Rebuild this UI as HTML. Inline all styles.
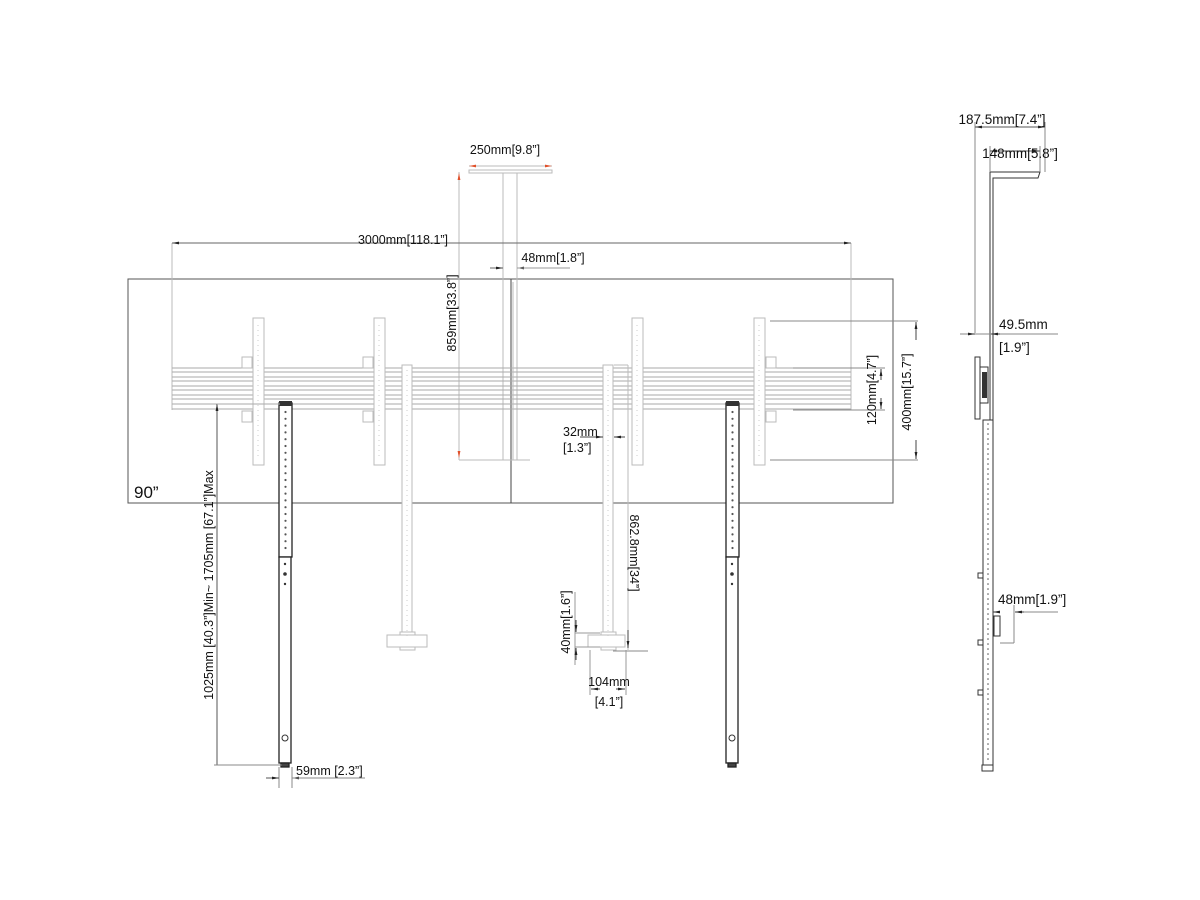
<!DOCTYPE html>
<html><head><meta charset="utf-8"><style>
html,body{margin:0;padding:0;background:#fff;}
svg{display:block;}
text{font-family:"Liberation Sans",Arial,sans-serif;font-size:12.5px;fill:#111;}
.s{font-size:13.5px;}
</style></head><body>
<svg width="1200" height="900" viewBox="0 0 1200 900" xmlns="http://www.w3.org/2000/svg">
<defs>
<marker id="a" viewBox="0 0 10 10" refX="10" refY="5" markerWidth="7" markerHeight="7" orient="auto-start-reverse"><path d="M0,3 L10,5 L0,7z" fill="#222"/></marker>
<marker id="r" viewBox="0 0 10 10" refX="10" refY="5" markerWidth="7" markerHeight="7" orient="auto-start-reverse"><path d="M0,3 L10,5 L0,7z" fill="#e0502a"/></marker>
</defs>
<rect width="1200" height="900" fill="#fff"/>

<rect x="128" y="279" width="765" height="224" fill="none" stroke="#555" stroke-width="1"/>
<line x1="511" y1="279" x2="511" y2="503" stroke="#444" stroke-width="1"/>
<text x="134" y="498" style="font-size:17px">90”</text>

<g stroke="#bbb" stroke-width="1" fill="none">
<rect x="469" y="170" width="83" height="3"/>
<line x1="503" y1="173" x2="503" y2="460"/>
<line x1="517" y1="173" x2="517" y2="460"/>
<line x1="459" y1="172" x2="459" y2="460"/>
<line x1="459" y1="460" x2="530" y2="460"/>
<line x1="172" y1="243" x2="172" y2="410"/>
<line x1="851" y1="243" x2="851" y2="410"/>
</g>
<line x1="469" y1="166" x2="552" y2="166" stroke="#bbb" marker-start="url(#r)" marker-end="url(#r)"/>
<line x1="459" y1="190" x2="459" y2="173" stroke="#bbb" marker-end="url(#r)"/>
<line x1="459" y1="440" x2="459" y2="458" stroke="#bbb" marker-end="url(#r)"/>
<text x="505" y="154" text-anchor="middle">250mm[9.8”]</text>
<text transform="translate(456,313) rotate(-90)" text-anchor="middle">859mm[33.8”]</text>

<line x1="172" y1="243" x2="851" y2="243" stroke="#666" marker-start="url(#a)" marker-end="url(#a)"/>
<text x="403" y="244" text-anchor="middle">3000mm[118.1”]</text>
<line x1="490" y1="268" x2="503" y2="268" stroke="#666" marker-end="url(#a)"/>
<line x1="535" y1="268" x2="517" y2="268" stroke="#666" marker-end="url(#a)"/>
<line x1="517" y1="268" x2="570" y2="268" stroke="#999"/>
<text x="553" y="262" text-anchor="middle">48mm[1.8”]</text>

<g stroke="#aaa" stroke-width="1">
<line x1="172" y1="368" x2="851" y2="368"/><line x1="172" y1="372" x2="851" y2="372"/>
<line x1="172" y1="377" x2="851" y2="377"/><line x1="172" y1="381" x2="851" y2="381"/>
<line x1="172" y1="386" x2="851" y2="386"/><line x1="172" y1="390" x2="851" y2="390"/>
<line x1="172" y1="395" x2="851" y2="395"/><line x1="172" y1="399" x2="851" y2="399"/>
<line x1="172" y1="404" x2="851" y2="404"/><line x1="172" y1="409" x2="851" y2="409"/>
</g>
<g stroke="#bbb" fill="#fff" stroke-width="1">
<rect x="253" y="318" width="11" height="147"/>
<rect x="374" y="318" width="11" height="147"/>
<rect x="632" y="318" width="11" height="147"/>
<rect x="754" y="318" width="11" height="147"/>
<rect x="242" y="357" width="10" height="11"/><rect x="242" y="411" width="10" height="11"/>
<rect x="363" y="357" width="10" height="11"/><rect x="363" y="411" width="10" height="11"/>
<rect x="766" y="357" width="10" height="11"/><rect x="766" y="411" width="10" height="11"/>
<rect x="402" y="365" width="10" height="280"/>
<rect x="603" y="365" width="10" height="280"/>
<line x1="614" y1="365" x2="628" y2="365"/><line x1="628" y1="365" x2="628" y2="650"/>
<rect x="400" y="632" width="15" height="18"/>
<rect x="387" y="635" width="40" height="12"/>
<rect x="601" y="632" width="15" height="18"/>
<rect x="588" y="635" width="37" height="12"/>
<line x1="513" y1="282" x2="513" y2="460"/>
</g>
<g stroke="#ccc" stroke-dasharray="1 4">
<line x1="258" y1="325" x2="258" y2="460"/><line x1="379" y1="325" x2="379" y2="460"/>
<line x1="637" y1="325" x2="637" y2="460"/><line x1="759" y1="325" x2="759" y2="460"/>
<line x1="407" y1="370" x2="407" y2="640"/><line x1="608" y1="370" x2="608" y2="640"/>
</g>

<g stroke="#222" stroke-width="1.3" fill="#fff">
<rect x="279" y="403" width="13" height="154"/>
<rect x="279" y="557" width="12" height="206"/>
<rect x="281" y="763" width="8" height="4" fill="#444"/>
<rect x="726" y="403" width="13" height="154"/>
<rect x="726" y="557" width="12" height="206"/>
<rect x="728" y="763" width="8" height="4" fill="#444"/>
</g>
<g fill="#333"><rect x="279" y="401" width="13" height="5"/><rect x="726" y="401" width="13" height="5"/></g>
<g stroke="#555" stroke-width="2.2" stroke-linecap="round" stroke-dasharray="0 6.8">
<line x1="285.5" y1="412" x2="285.5" y2="553"/><line x1="732.5" y1="412" x2="732.5" y2="553"/>
</g>
<g fill="#333"><circle cx="285" cy="564" r="1.2"/><circle cx="285" cy="574" r="1.8"/><circle cx="285" cy="584" r="1.2"/>
<circle cx="732" cy="564" r="1.2"/><circle cx="732" cy="574" r="1.8"/><circle cx="732" cy="584" r="1.2"/></g>
<circle cx="285" cy="738" r="3" fill="none" stroke="#333"/><circle cx="732" cy="738" r="3" fill="none" stroke="#333"/>

<line x1="217" y1="765" x2="217" y2="404" stroke="#555" marker-end="url(#a)"/>
<line x1="214" y1="765" x2="282" y2="765" stroke="#888"/>
<line x1="217" y1="404" x2="280" y2="404" stroke="#aaa"/>
<text transform="translate(213,585) rotate(-90)" text-anchor="middle">1025mm [40.3”]Min~ 1705mm [67.1”]Max</text>
<line x1="279" y1="767" x2="279" y2="788" stroke="#888"/><line x1="292" y1="767" x2="292" y2="788" stroke="#888"/>
<line x1="266" y1="778" x2="279" y2="778" stroke="#555" marker-end="url(#a)"/>
<line x1="305" y1="778" x2="292" y2="778" stroke="#555" marker-end="url(#a)"/>
<line x1="292" y1="778" x2="365" y2="778" stroke="#888"/>
<text x="296" y="775">59mm [2.3”]</text>

<g stroke="#888"><line x1="770" y1="321" x2="918" y2="321"/><line x1="770" y1="460" x2="918" y2="460"/>
<line x1="793" y1="368" x2="885" y2="368"/><line x1="793" y1="410" x2="885" y2="410"/></g>
<line x1="916" y1="340" x2="916" y2="322" stroke="#444" marker-end="url(#a)"/>
<line x1="916" y1="440" x2="916" y2="459" stroke="#444" marker-end="url(#a)"/>
<line x1="881" y1="380" x2="881" y2="369" stroke="#444" marker-end="url(#a)"/>
<line x1="881" y1="398" x2="881" y2="409" stroke="#444" marker-end="url(#a)"/>
<text transform="translate(911,392) rotate(-90)" text-anchor="middle">400mm[15.7”]</text>
<text transform="translate(876,390) rotate(-90)" text-anchor="middle">120mm[4.7”]</text>

<line x1="580" y1="437" x2="603" y2="437" stroke="#444" marker-end="url(#a)"/>
<line x1="625" y1="437" x2="614" y2="437" stroke="#444" marker-end="url(#a)"/>
<text x="563" y="436">32mm</text><text x="563" y="452">[1.3”]</text>
<text transform="translate(630,553) rotate(90)" text-anchor="middle">862.8mm[34”]</text>
<line x1="628" y1="630" x2="628" y2="648" stroke="#444" marker-end="url(#a)"/>
<line x1="613" y1="651" x2="648" y2="651" stroke="#888"/>
<g stroke="#999"><line x1="575" y1="633" x2="600" y2="633"/><line x1="575" y1="647" x2="600" y2="647"/>
<line x1="575" y1="592" x2="575" y2="665"/></g>
<line x1="576" y1="620" x2="576" y2="632" stroke="#444" marker-end="url(#a)"/>
<line x1="576" y1="660" x2="576" y2="648" stroke="#444" marker-end="url(#a)"/>
<text transform="translate(570,622) rotate(-90)" text-anchor="middle">40mm[1.6”]</text>
<g stroke="#999"><line x1="590" y1="650" x2="590" y2="695"/><line x1="626" y1="650" x2="626" y2="695"/></g>
<line x1="600" y1="689" x2="591" y2="689" stroke="#444" marker-end="url(#a)"/>
<line x1="616" y1="689" x2="625" y2="689" stroke="#444" marker-end="url(#a)"/>
<text x="609" y="686" text-anchor="middle">104mm</text>
<text x="609" y="706" text-anchor="middle">[4.1”]</text>

<!-- side view -->
<g stroke="#333" fill="#fff" stroke-width="1">
<polyline points="990,420 990,172 1040,172 1038,178 993,178 993,420" fill="none"/>
<rect x="975" y="357" width="5" height="62"/>
<rect x="980" y="367" width="8" height="36"/>
<rect x="983" y="420" width="10" height="350"/>
<rect x="982" y="765" width="11" height="6"/>
<rect x="978" y="573" width="5" height="5"/><rect x="978" y="640" width="5" height="5"/><rect x="978" y="690" width="5" height="5"/>
<rect x="994" y="616" width="6" height="20"/>
</g>
<rect x="982" y="372" width="5" height="26" fill="#333"/>
<g stroke="#555" stroke-width="1.6" stroke-linecap="round" stroke-dasharray="0 5"><line x1="988" y1="424" x2="988" y2="760"/></g>
<g stroke="#888"><line x1="975" y1="122" x2="975" y2="333"/><line x1="1045" y1="122" x2="1045" y2="172"/>
<line x1="990" y1="146" x2="990" y2="172"/><line x1="1040" y1="146" x2="1040" y2="172"/>
<line x1="960" y1="334" x2="1058" y2="334"/>
<line x1="1014" y1="605" x2="1014" y2="643"/><line x1="1000" y1="643" x2="1014" y2="643"/>
<line x1="1020" y1="612" x2="1058" y2="612"/></g>
<line x1="975" y1="127" x2="1045" y2="127" stroke="#555" marker-start="url(#a)" marker-end="url(#a)"/>
<line x1="990" y1="151" x2="1040" y2="151" stroke="#555" marker-start="url(#a)" marker-end="url(#a)"/>
<line x1="968" y1="334" x2="975" y2="334" stroke="#444" marker-end="url(#a)"/>
<line x1="1000" y1="334" x2="991" y2="334" stroke="#444" marker-end="url(#a)"/>
<line x1="1000" y1="612" x2="993" y2="612" stroke="#444" marker-end="url(#a)"/>
<line x1="1024" y1="612" x2="1015" y2="612" stroke="#444" marker-end="url(#a)"/>
<text class="s" x="1002" y="124" text-anchor="middle">187.5mm[7.4”]</text>
<text class="s" x="1020" y="158" text-anchor="middle">148mm[5.8”]</text>
<text class="s" x="999" y="329">49.5mm</text>
<text class="s" x="999" y="352">[1.9”]</text>
<text class="s" x="998" y="604">48mm[1.9”]</text>
</svg>
</body></html>
